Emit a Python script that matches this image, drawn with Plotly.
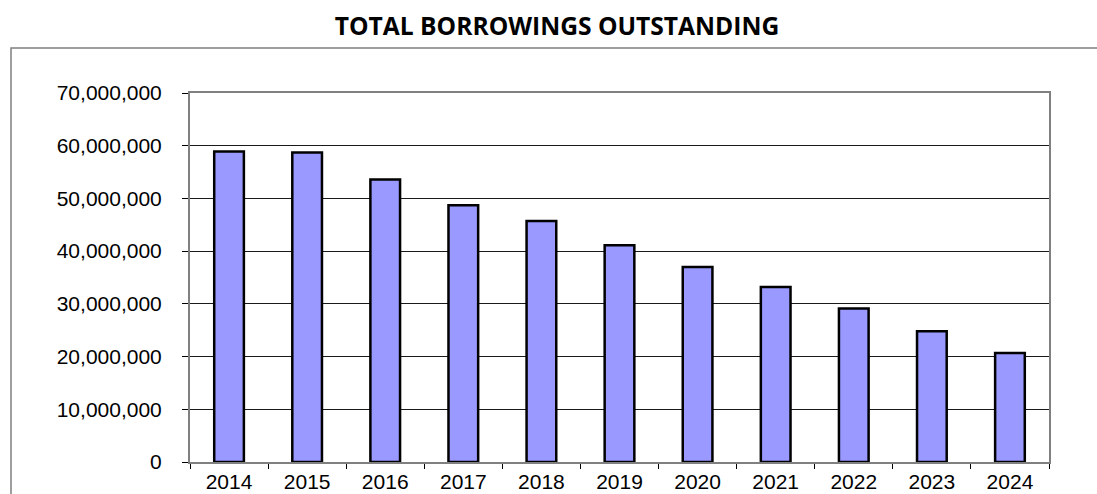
import plotly.graph_objects as go

# Year-end balances of total borrowings outstanding
years = ["2014", "2015", "2016", "2017", "2018", "2019",
         "2020", "2021", "2022", "2023", "2024"]
borrowings = [58900000, 58700000, 53600000, 48700000, 45700000, 41100000,
              37000000, 33200000, 29100000, 24800000, 20700000]

y_ticks = [0, 10000000, 20000000, 30000000, 40000000, 50000000, 60000000, 70000000]

W, H = 1097, 494
ML, MR, MT, MB = 190, 48, 93, 32

fig = go.Figure(
    go.Bar(
        x=years,
        y=borrowings,
        marker=dict(color="#9999FF", line=dict(color="#000000", width=2.5)),
        hoverinfo="x+y",
    )
)

fig.update_layout(
    width=W,
    height=H,
    margin=dict(l=ML, r=MR, t=MT, b=MB),
    paper_bgcolor="#FFFFFF",
    plot_bgcolor="#FFFFFF",
    bargap=0.62,
    showlegend=False,
    font=dict(family="Liberation Sans, Arial, sans-serif", size=21, color="#000000"),
    title=dict(
        text="<b>TOTAL BORROWINGS OUTSTANDING</b>",
        x=557 / W,
        xanchor="center",
        xref="container",
        y=1 - 26 / H,
        yanchor="middle",
        yref="container",
        font=dict(family="Open Sans, sans-serif", size=24.6, color="#000000"),
    ),
    shapes=[
        # outer chart frame (continues past the lower and right edges)
        dict(type="rect", xref="paper", yref="paper",
             x0=(11 - ML) / (W - ML - MR), x1=(W + 20 - ML) / (W - ML - MR),
             y0=-0.3, y1=(H - 48 - MB) / (H - MT - MB),
             line=dict(color="#7F7F7F", width=1.5), layer="below"),
    ],
)

fig.update_xaxes(
    type="category",
    automargin=False,
    showline=True,
    linecolor="#808080",
    linewidth=2,
    mirror=True,
    ticks="outside",
    tickson="boundaries",
    ticklen=5,
    tickwidth=1,
    tickcolor="#000000",
    showgrid=False,
)

fig.update_yaxes(
    range=[0, 70000000],
    automargin=False,
    tickvals=y_ticks,
    tickformat=",",
    showline=True,
    linecolor="#808080",
    linewidth=2,
    mirror=True,
    ticks="outside",
    ticklen=6,
    tickwidth=1,
    tickcolor="#000000",
    ticklabelstandoff=16,
    showgrid=True,
    gridcolor="#1A1A1A",
    gridwidth=1,
    zeroline=False,
)

fig.write_html("out.html")
